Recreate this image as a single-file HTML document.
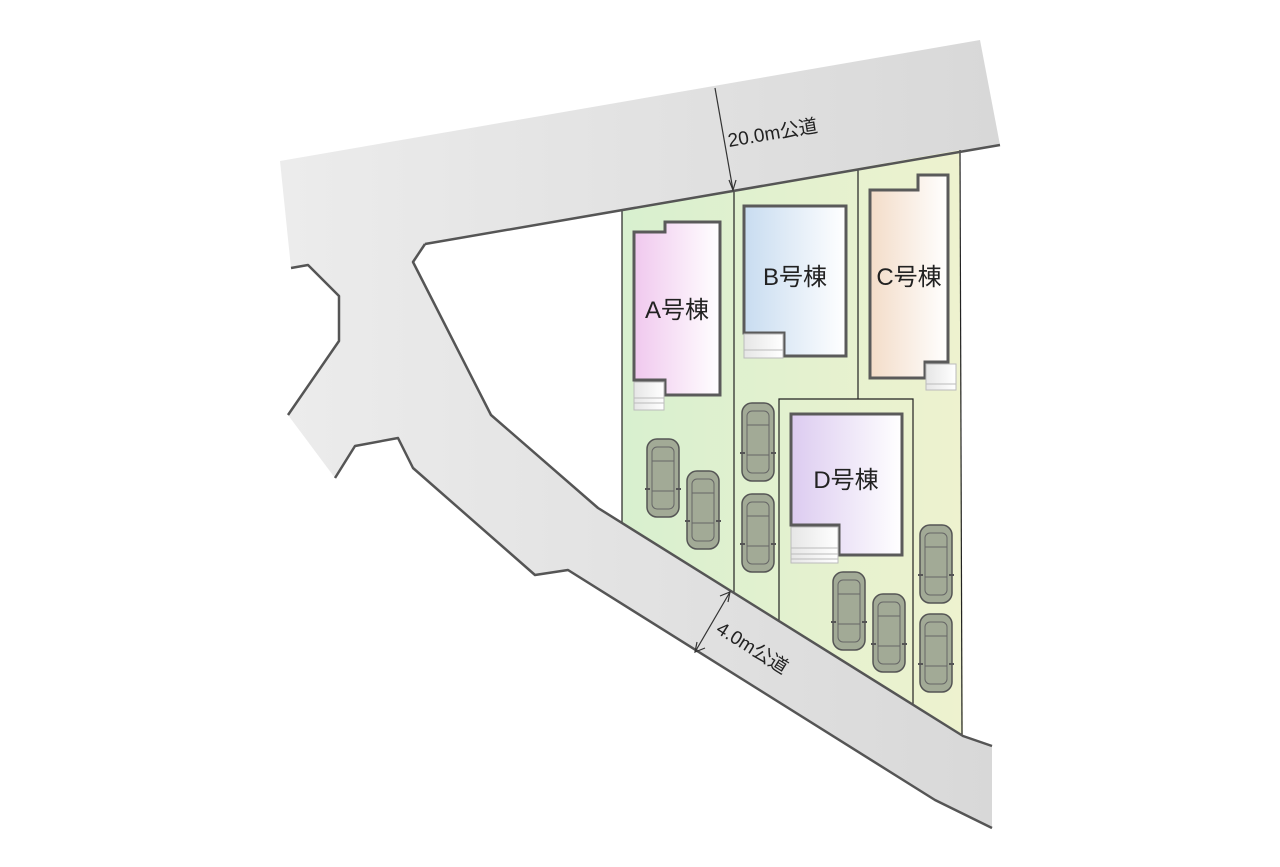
<!DOCTYPE html>
<html><head><meta charset="utf-8"><style>
html,body{margin:0;padding:0;background:#fff;}
svg{display:block;}
text{font-family:"Liberation Sans","Noto Sans CJK JP",sans-serif;fill:#222;}
</style></head><body>
<svg width="1280" height="867" viewBox="0 0 1280 867" xmlns="http://www.w3.org/2000/svg">
<defs>
<linearGradient id="road" x1="0" x2="1" y1="0" y2="0"><stop offset="0" stop-color="#ececec"/><stop offset="1" stop-color="#d8d8d8"/></linearGradient>
<linearGradient id="lot" x1="0" x2="1" y1="0" y2="0"><stop offset="0" stop-color="#d8f0cf"/><stop offset="1" stop-color="#eef2cf"/></linearGradient>
<linearGradient id="ga" x1="0" x2="1"><stop offset="0" stop-color="#f0c8ee"/><stop offset="1" stop-color="#fff"/></linearGradient>
<linearGradient id="gb" x1="0" x2="1"><stop offset="0" stop-color="#c8dcf0"/><stop offset="1" stop-color="#fff"/></linearGradient>
<linearGradient id="gc" x1="0" x2="1"><stop offset="0" stop-color="#f3dcc8"/><stop offset="1" stop-color="#fff"/></linearGradient>
<linearGradient id="gd" x1="0" x2="1"><stop offset="0" stop-color="#dccbf0"/><stop offset="1" stop-color="#fff"/></linearGradient>
<linearGradient id="st" x1="0" x2="1"><stop offset="0" stop-color="#e6e6e6"/><stop offset="1" stop-color="#fff"/></linearGradient>
<g id="car">
<rect x="0" y="0" width="32" height="78" rx="10" fill="#a2aa96" stroke="#555" stroke-width="1.5"/>
<rect x="5" y="8" width="22" height="62" rx="5" fill="none" stroke="#666" stroke-width="1"/>
<line x1="5" y1="22" x2="27" y2="22" stroke="#666"/>
<line x1="5" y1="52" x2="27" y2="52" stroke="#666"/>
<line x1="-2" y1="50" x2="3" y2="50" stroke="#555" stroke-width="2"/>
<line x1="29" y1="50" x2="34" y2="50" stroke="#555" stroke-width="2"/>
</g>
</defs>
<path d="M280,161 L980,40 L1000,145 L425,244 L413,262 L491,415 L598,508 L963,736 L992,746 L992,828 L935,800 L568,570 L535,575 L413,468 L398,438 L355,446 L335,478 L288,415 L339,341 L339,296 L308,265 L291,268 Z" fill="url(#road)"/>
<path d="M622,210 L960,150 L963,736 L622,523 Z" fill="url(#lot)"/>
<g stroke="#222" stroke-width="1.2" fill="none">
<line x1="622" y1="210" x2="622" y2="523"/>
<line x1="734" y1="191" x2="734" y2="593"/>
<line x1="858" y1="169" x2="858" y2="399"/>
<line x1="960" y1="150" x2="962" y2="736"/>
<polyline points="779,621 779,399 913,399 913,705"/>
</g>
<g stroke="#555" stroke-width="2.5" fill="none" stroke-linejoin="round">
<polyline points="425,244 1000,145"/>
<polyline points="425,244 413,262 491,415 598,508 963,736 992,746"/>
<polyline points="291,268 308,265 339,296 339,341 288,415"/>
<polyline points="335,478 355,446 398,438 413,468 535,575 568,570 935,800 992,828"/>
</g>
<g stroke="#333" stroke-width="1.2" fill="none">
<line x1="715" y1="88" x2="733" y2="190"/>
<polyline points="729,180 733,190 736,180"/>
<line x1="730" y1="592" x2="695" y2="652"/>
<polyline points="720,596 730,592 728,602"/>
<polyline points="705,648 695,652 697,642"/>
</g>
<text transform="translate(729,147) rotate(-9.7)" font-size="19">20.0m公道</text>
<text transform="translate(715,632) rotate(32)" font-size="19">4.0m公道</text>
<g stroke="#5a5a5a" stroke-width="3">
<path d="M634,232 L665,232 L665,222 L720,222 L720,395 L665,395 L665,380 L634,380 Z" fill="url(#ga)"/>
<path d="M744,206 L846,206 L846,356 L784,356 L784,333 L744,333 Z" fill="url(#gb)"/>
<path d="M870,190 L918,190 L918,175 L948,175 L948,362 L925,362 L925,378 L870,378 Z" fill="url(#gc)"/>
<path d="M791,414 L902,414 L902,555 L839,555 L839,525 L791,525 Z" fill="url(#gd)"/>
</g>
<g stroke="#bbb" stroke-width="1" fill="url(#st)">
<rect x="634" y="382" width="30" height="28"/>
<line x1="634" y1="398" x2="664" y2="398"/><line x1="634" y1="403" x2="664" y2="403"/>
<rect x="744" y="334" width="39" height="24"/>
<line x1="744" y1="350" x2="783" y2="350"/>
<rect x="926" y="364" width="30" height="26"/>
<line x1="926" y1="384" x2="956" y2="384"/>
<rect x="791" y="527" width="47" height="36"/>
<line x1="791" y1="548" x2="838" y2="548"/><line x1="791" y1="554" x2="838" y2="554"/><line x1="791" y1="559" x2="838" y2="559"/>
</g>
<text x="677" y="318" font-size="24" text-anchor="middle">A号棟</text>
<text x="795" y="285" font-size="24" text-anchor="middle">B号棟</text>
<text x="909" y="285" font-size="24" text-anchor="middle">C号棟</text>
<text x="846" y="488" font-size="24" text-anchor="middle">D号棟</text>
<use href="#car" x="647" y="439"/>
<use href="#car" x="687" y="471"/>
<use href="#car" x="742" y="403"/>
<use href="#car" x="742" y="494"/>
<use href="#car" x="833" y="572"/>
<use href="#car" x="873" y="594"/>
<use href="#car" x="920" y="525"/>
<use href="#car" x="920" y="614"/>
</svg>
</body></html>
